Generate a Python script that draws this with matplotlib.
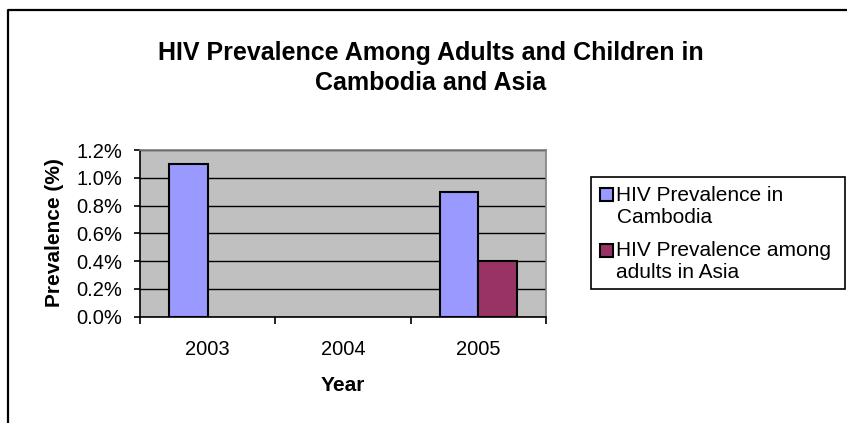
import numpy as np
import matplotlib
matplotlib.use("Agg")
import matplotlib.pyplot as plt
from matplotlib.lines import Line2D
from matplotlib.patches import Rectangle
from matplotlib.ticker import PercentFormatter, FixedLocator

plt.rcParams['font.family'] = ['Liberation Sans', 'DejaVu Sans']

years = ["2003", "2004", "2005"]
cambodia = [0.011, np.nan, 0.009]
asia = [np.nan, np.nan, 0.004]
series_names = ["HIV Prevalence in\nCambodia", "HIV Prevalence among\nadults in Asia"]
colors = ["#9999FF", "#993366"]

W, H = 847, 423
fig = plt.figure(figsize=(W / 100, H / 100), dpi=100)

def fx(px):
    return px / W

def fy(py):
    return 1 - py / H

# outer chart border (only top/left visible in the crop)
fig.add_artist(Line2D([fx(8), fx(8), 1.0], [0.0, fy(10), fy(10)],
                      transform=fig.transFigure, color="black", lw=1.6))

ax = fig.add_axes([fx(140), fy(316.7), fx(406), 166.7 / H])
ax.set_facecolor("#C0C0C0")

x = np.arange(len(years))
w = 1 / 3.5
ax.bar(x - w / 2, cambodia, w, color=colors[0], edgecolor="black", lw=1.5, zorder=3)
ax.bar(x + w / 2, asia, w, color=colors[1], edgecolor="black", lw=1.5, zorder=3)

ax.set_xlim(-0.5, 2.5)
ax.set_ylim(0, 0.012)
ax.set_yticks(np.arange(0, 0.0121, 0.002))
ax.yaxis.set_major_formatter(PercentFormatter(xmax=1, decimals=1))
ax.grid(axis="y", color="black", lw=1.0, zorder=1)
ax.set_axisbelow(True)

ax.set_xticks(x)
ax.set_xticklabels(years)
ax.xaxis.set_minor_locator(FixedLocator([-0.5, 0.5, 1.5, 2.5]))
ax.tick_params(axis="x", which="major", length=0, pad=17, labelsize=14.5)
ax.tick_params(axis="x", which="minor", length=5, width=1.2, direction="out")
ax.tick_params(axis="y", length=4, width=1.2, pad=9, labelsize=14.5)

for s in ["top", "right"]:
    ax.spines[s].set_color("#808080")
    ax.spines[s].set_linewidth(1.2)
for s in ["left", "bottom"]:
    ax.spines[s].set_color("black")
    ax.spines[s].set_linewidth(1.2)

ax.set_xlabel("Year", fontsize=15, fontweight="bold")
ax.xaxis.set_label_coords((343 - 140) / 406, (316.7 - 385) / 166.7)
ax.xaxis.label.set_va("center")
ax.set_ylabel("Prevalence (%)", fontsize=15, fontweight="bold")
ax.yaxis.set_label_coords((55 - 140) / 406, (316.7 - 232.5) / 166.7)
ax.yaxis.label.set_va("center")

fig.text(fx(431), fy(68), "HIV Prevalence Among Adults and Children in\nCambodia and Asia",
         ha="center", va="center", fontsize=18, fontweight="bold", linespacing=1.32)

# legend box drawn by hand so the key square sits on the first text line
fig.add_artist(Rectangle((fx(590.7), fy(289)), fx(254), 112 / H, transform=fig.transFigure,
                         facecolor="white", edgecolor="black", lw=1.2))
key_y = [194.5, 250]
for name, col, ky in zip(series_names, colors, key_y):
    fig.add_artist(Rectangle((fx(599.5), fy(ky + 6.5)), fx(13), 13 / H,
                             transform=fig.transFigure, facecolor=col,
                             edgecolor="black", lw=1.5))
    fig.text(fx(616.5), fy(ky - 9), name, ha="left", va="top", fontsize=15,
             linespacing=1.2)

fig.savefig("out.png", dpi=100)
